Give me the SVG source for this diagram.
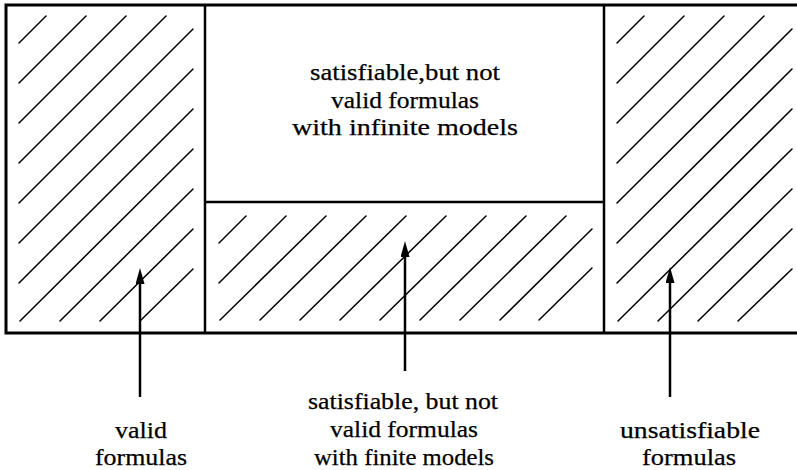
<svg xmlns="http://www.w3.org/2000/svg" width="797" height="470" viewBox="0 0 797 470">
<style>
.frame{fill:none;stroke:#000;stroke-width:3}
.div{fill:none;stroke:#000;stroke-width:2.5}
.hatch line{stroke:#000;stroke-width:1.5;stroke-linecap:round}
.arrow{stroke:#000;stroke-width:2.5;fill:none;marker-end:url(#head)}
text{font-family:"Liberation Serif","Times New Roman",serif;font-size:24px;fill:#000;stroke:#000;stroke-width:0.25;text-anchor:middle}
</style>
<defs>
<marker id="head" markerUnits="userSpaceOnUse" viewBox="0 0 16 9" refX="3" refY="4.5" markerWidth="16" markerHeight="9" orient="auto">
<path d="M0,0 L16,4.5 L0,9 z" fill="#000"/>
</marker>
</defs>
<rect x="0" y="0" width="797" height="470" fill="#fff"/>
<g id="valid-region" class="hatch">
<line x1="19" y1="43" x2="46" y2="16"/>
<line x1="19" y1="83" x2="86" y2="16"/>
<line x1="19" y1="123" x2="126" y2="16"/>
<line x1="19" y1="163" x2="166" y2="16"/>
<line x1="19" y1="203" x2="193" y2="29"/>
<line x1="19" y1="243" x2="193" y2="69"/>
<line x1="19" y1="283" x2="193" y2="109"/>
<line x1="20" y1="321" x2="193" y2="149"/>
<line x1="60" y1="321" x2="193" y2="189"/>
<line x1="100" y1="321" x2="193" y2="229"/>
<line x1="140" y1="321" x2="193" y2="269"/>
</g>
<g id="finite-region" class="hatch">
<line x1="219" y1="243" x2="246" y2="216"/>
<line x1="219" y1="283" x2="286" y2="216"/>
<line x1="220" y1="320" x2="326" y2="216"/>
<line x1="260" y1="320" x2="366" y2="216"/>
<line x1="300" y1="320" x2="406" y2="216"/>
<line x1="340" y1="320" x2="446" y2="216"/>
<line x1="380" y1="320" x2="486" y2="216"/>
<line x1="420" y1="320" x2="526" y2="216"/>
<line x1="460" y1="320" x2="566" y2="216"/>
<line x1="500" y1="320" x2="592" y2="229"/>
<line x1="539" y1="320" x2="592" y2="268"/>
</g>
<g id="unsat-region" class="hatch">
<line x1="617" y1="43" x2="644" y2="16"/>
<line x1="617" y1="83" x2="684" y2="16"/>
<line x1="617" y1="123" x2="724" y2="16"/>
<line x1="617" y1="163" x2="764" y2="16"/>
<line x1="617" y1="203" x2="792" y2="29"/>
<line x1="617" y1="243" x2="792" y2="69"/>
<line x1="617" y1="283" x2="792" y2="109"/>
<line x1="618" y1="321" x2="792" y2="149"/>
<line x1="658" y1="321" x2="792" y2="189"/>
<line x1="698" y1="321" x2="792" y2="229"/>
<line x1="738" y1="321" x2="792" y2="269"/>
</g>
<g id="infinite-region">
<text x="405" y="80" textLength="190" lengthAdjust="spacingAndGlyphs">satisfiable,but not</text>
<text x="405" y="108" textLength="148" lengthAdjust="spacingAndGlyphs">valid formulas</text>
<text x="405" y="135" textLength="226" lengthAdjust="spacingAndGlyphs">with infinite models</text>
</g>
<g id="frame">
<path class="frame" d="M797,5 H6 V333 H797"/>
<path class="div" d="M205,5 V333 M604,5 V333 M205,202 H604"/>
</g>
<g id="connectors">
<line class="arrow" x1="140" y1="397" x2="140" y2="281"/>
<line class="arrow" x1="405" y1="371" x2="405" y2="254"/>
<line class="arrow" x1="670" y1="397" x2="670" y2="280"/>
</g>
<g id="label-valid">
<text x="141" y="438" textLength="52" lengthAdjust="spacingAndGlyphs">valid</text>
<text x="141" y="465" textLength="92" lengthAdjust="spacingAndGlyphs">formulas</text>
</g>
<g id="label-finite">
<text x="403" y="409" textLength="190" lengthAdjust="spacingAndGlyphs">satisfiable, but not</text>
<text x="404" y="437" textLength="148" lengthAdjust="spacingAndGlyphs">valid formulas</text>
<text x="404" y="465" textLength="180" lengthAdjust="spacingAndGlyphs">with finite models</text>
</g>
<g id="label-unsat">
<text x="690" y="438" textLength="140" lengthAdjust="spacingAndGlyphs">unsatisfiable</text>
<text x="689" y="465" textLength="94" lengthAdjust="spacingAndGlyphs">formulas</text>
</g>
</svg>
